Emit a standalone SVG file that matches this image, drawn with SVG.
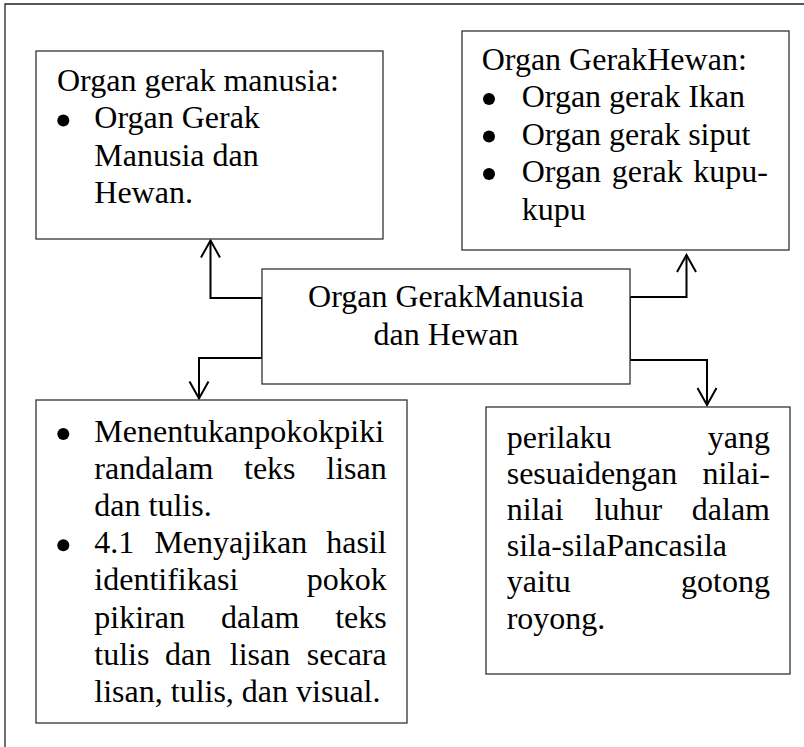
<svg xmlns="http://www.w3.org/2000/svg" width="804" height="747" viewBox="0 0 804 747">
<style>
.box{fill:#fff;stroke:#333;stroke-width:1.3}
.frame{fill:none;stroke:#222;stroke-width:1.3}
.conn{fill:none;stroke:#000;stroke-width:2}
text{font-family:"Liberation Serif","Times New Roman",serif;font-size:32px;fill:#000}
.e{text-anchor:end}
.m{text-anchor:middle}
.b{fill:#000}
</style>
<defs>
<marker id="arr" viewBox="-19 -11 21 22" refX="0" refY="0" markerWidth="21" markerHeight="22" markerUnits="userSpaceOnUse" orient="auto">
<path d="M-17,-9.5 L0,0 L-17,9.5" fill="none" stroke="#000" stroke-width="2"/>
</marker>
</defs>
<rect width="804" height="747" fill="#fff"/>
<path class="frame" d="M5,747 V4 H804"/>

<g id="connectors">
<path class="conn" d="M262,328 V298 H210.5 V240.5" marker-end="url(#arr)"/>
<path class="conn" d="M262,328 V358 H199 V398.5" marker-end="url(#arr)"/>
<path class="conn" d="M630,328 V297 H686.5 V255" marker-end="url(#arr)"/>
<path class="conn" d="M630,328 V360 H707 V405" marker-end="url(#arr)"/>
</g>

<g id="box-manusia">
<rect class="box" x="36" y="51" width="347" height="188"/>
<text x="57" y="91">Organ gerak manusia:</text>
<circle class="b" cx="63.3" cy="120.5" r="6"/>
<text x="94.3" y="128.3">Organ Gerak</text>
<text x="94.3" y="165.6">Manusia dan</text>
<text x="94.3" y="203">Hewan.</text>
</g>

<g id="box-hewan">
<rect class="box" x="462" y="31" width="327" height="219"/>
<text x="481.7" y="69.5">Organ GerakHewan:</text>
<circle class="b" cx="489" cy="99" r="6"/>
<text x="521.7" y="107">Organ gerak Ikan</text>
<circle class="b" cx="489" cy="136.5" r="6"/>
<text x="521.7" y="144.5">Organ gerak siput</text>
<circle class="b" cx="489" cy="174" r="6"/>
<text y="182"><tspan x="521.7">Organ</tspan><tspan x="611.7">gerak</tspan><tspan x="768" class="e">kupu-</tspan></text>
<text x="521.7" y="219.5">kupu</text>
</g>

<g id="box-center">
<rect class="box" x="262" y="269" width="368" height="115"/>
<text class="m" x="446" y="307">Organ GerakManusia</text>
<text class="m" x="446" y="345">dan Hewan</text>
</g>

<g id="box-kompetensi">
<rect class="box" x="36" y="400" width="371" height="323"/>
<circle class="b" cx="63.3" cy="434" r="6"/>
<text x="94.3" y="442">Menentukanpokokpiki</text>
<text y="479.1"><tspan x="94.3">randalam</tspan><tspan x="244">teks</tspan><tspan x="386.7" class="e">lisan</tspan></text>
<text x="94.3" y="516.2">dan tulis.</text>
<circle class="b" cx="63.3" cy="545.3" r="6"/>
<text y="553.3"><tspan x="94.3">4.1</tspan><tspan x="154.4">Menyajikan</tspan><tspan x="386.7" class="e">hasil</tspan></text>
<text y="590.4"><tspan x="94.3">identifikasi</tspan><tspan x="386.7" class="e">pokok</tspan></text>
<text y="627.5"><tspan x="94.3">pikiran</tspan><tspan x="221.1">dalam</tspan><tspan x="386.7" class="e">teks</tspan></text>
<text y="664.6"><tspan x="94.3">tulis</tspan><tspan x="165">dan</tspan><tspan x="229.8">lisan</tspan><tspan x="386.7" class="e">secara</tspan></text>
<text x="94.3" y="701.7">lisan, tulis, dan visual.</text>
</g>

<g id="box-perilaku">
<rect class="box" x="486" y="407" width="304" height="267"/>
<text y="447.5"><tspan x="506.7">perilaku</tspan><tspan x="770" class="e">yang</tspan></text>
<text y="483.7"><tspan x="506.7">sesuaidengan</tspan><tspan x="770" class="e">nilai-</tspan></text>
<text y="519.9"><tspan x="506.7">nilai</tspan><tspan x="594.5">luhur</tspan><tspan x="770" class="e">dalam</tspan></text>
<text x="506.7" y="556.1">sila-silaPancasila</text>
<text y="592.3"><tspan x="506.7">yaitu</tspan><tspan x="770" class="e">gotong</tspan></text>
<text x="506.7" y="628.5">royong.</text>
</g>
</svg>
